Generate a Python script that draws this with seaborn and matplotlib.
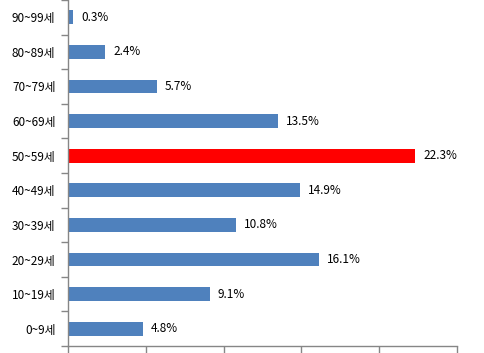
import pandas as pd
import seaborn as sns
import matplotlib.pyplot as plt
from matplotlib.ticker import FixedLocator

ages = ['90~99세', '80~89세', '70~79세', '60~69세', '50~59세',
        '40~49세', '30~39세', '20~29세', '10~19세', '0~9세']
shares = [0.3, 2.4, 5.7, 13.5, 22.3, 14.9, 10.8, 16.1, 9.1, 4.8]
colors = ['#4F81BD' if a != '50~59세' else '#FF0000' for a in ages]

df = pd.DataFrame({'age': ages, 'share': shares})

sns.set_style('white')
plt.rcParams['font.family'] = ['Noto Sans CJK KR', 'DejaVu Sans']

fig = plt.figure(figsize=(4.85, 3.53), dpi=100)
ax = fig.add_axes([68 / 485, 7 / 353, 389 / 485, 346 / 353])
sns.barplot(data=df, x='share', y='age', hue='age', palette=colors,
            legend=False, width=0.4, saturation=1, linewidth=0, ax=ax)

for c in ax.containers:
    ax.bar_label(c, fmt='%.1f%%', padding=6, fontsize=8.5, color='black')

ax.set_xlim(0, 25)
ax.set_ylim(9.5, -0.5)
ax.set_xticks([0, 5, 10, 15, 20, 25])
ax.set_xticklabels([])
ax.tick_params(axis='x', length=5, width=1, color='#868686', direction='out', bottom=True)
ax.tick_params(axis='y', which='major', length=0, pad=9, labelsize=8.5, labelcolor='black')
ax.yaxis.set_minor_locator(FixedLocator([i - 0.5 for i in range(11)]))
ax.tick_params(axis='y', which='minor', length=5, width=1, color='#868686', direction='out', left=True)

for s in ['top', 'right']:
    ax.spines[s].set_visible(False)
for s in ['left', 'bottom']:
    ax.spines[s].set_color('#868686')
    ax.spines[s].set_linewidth(1)
ax.set_xlabel('')
ax.set_ylabel('')

fig.savefig('out.png', dpi=100)
